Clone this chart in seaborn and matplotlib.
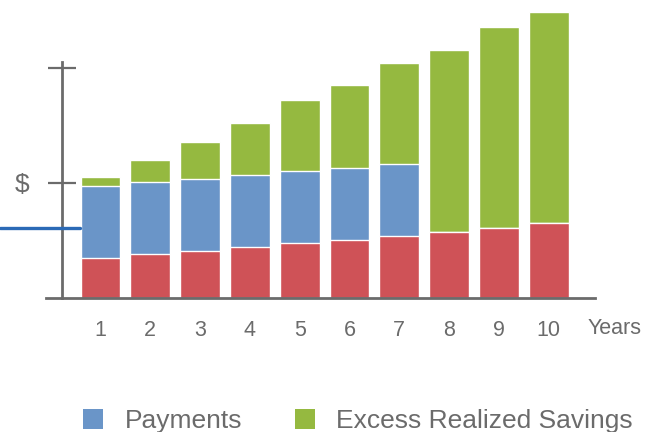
import numpy as np
import pandas as pd
import seaborn as sns
import matplotlib
matplotlib.use("Agg")
import matplotlib.pyplot as plt

# values (arbitrary units, baseline = 0)
years = ["1", "2", "3", "4", "5", "6", "7", "8", "9", "10"]
cost = [40, 44, 47, 51, 55, 58, 62, 66, 70, 75]
payments = [72, 72, 72, 72, 72, 72, 72, 0, 0, 0]
excess = [9, 22, 37, 52, 71, 83, 101, 182, 201, 211]
payment_level = 70
ytick_vals = [115, 230]
ytick_labels = ["$", ""]

red = "#cf5257"
blue = "#6a95c8"
green = "#95b940"
grey = "#6b6b6b"

df = pd.DataFrame({"year": years, "cost": cost, "payments": payments, "excess": excess})
df["lower"] = df["cost"] + df["payments"]
df["total"] = df["lower"] + df["excess"]

sns.set_style("white")
plt.rcParams["font.family"] = ["Liberation Sans", "DejaVu Sans"]

fig = plt.figure(figsize=(6.53, 4.32), dpi=100)
ax = fig.add_axes([46 / 653, 1 - 298 / 432, 549 / 653, 298 / 432])

# stacked bars: draw totals first, then cover with lower parts
edge = dict(edgecolor="white", linewidth=1)
sns.barplot(data=df, x="year", y="total", color=green, saturation=1, ax=ax, **edge)
sns.barplot(data=df, x="year", y="lower", color=blue, saturation=1, ax=ax, **edge)
sns.barplot(data=df, x="year", y="cost", color=red, saturation=1, ax=ax, **edge)

ax.set_xlim(-1.094, 9.93)
ax.set_ylim(0, 298)
ax.set_xlabel("")
ax.set_ylabel("")

for s in ["top", "right"]:
    ax.spines[s].set_visible(False)
ax.spines["bottom"].set_color(grey)
ax.spines["bottom"].set_linewidth(2)
ax.spines["left"].set_color(grey)
ax.spines["left"].set_linewidth(2)
ax.spines["left"].set_position(("data", -0.773))
ax.spines["left"].set_bounds(0, 236)

ax.set_yticks(ytick_vals)
ax.set_yticklabels(ytick_labels)
ax.tick_params(axis="y", left=True, direction="inout", length=19.5, width=1.6, color=grey,
               labelsize=19, labelcolor=grey, pad=14)
ax.tick_params(axis="x", bottom=False, length=0, labelsize=15.5, labelcolor=grey, pad=16)

ax.axhline(payment_level, xmin=-0.084, xmax=0.062, color="#2b6ab6", linewidth=2.4,
           clip_on=False, zorder=5)

fig.text(615 / 653, 1 - 328 / 432, "Years", ha="center", va="center",
         fontsize=15.5, color=grey)

handles = [plt.Rectangle((0, 0), 1, 1, facecolor=blue, edgecolor="none"),
           plt.Rectangle((0, 0), 1, 1, facecolor=green, edgecolor="none")]
fig.legend(handles, ["Payments", "Excess Realized Savings"], loc="center",
           bbox_to_anchor=(358 / 653, 1 - 421 / 432), ncol=2, frameon=False,
           fontsize=19, labelcolor=grey, handlelength=0.76, handleheight=0.76,
           handletextpad=0.8, columnspacing=2.0)

fig.savefig("out.png", dpi=100)
